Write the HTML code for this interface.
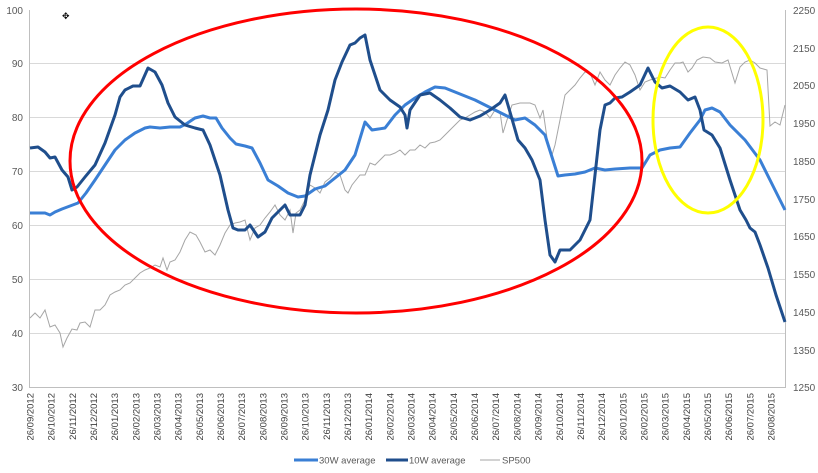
<!DOCTYPE html>
<html><head><meta charset="utf-8"><style>
html,body{margin:0;padding:0;background:#fff;}
svg{display:block;font-family:"Liberation Sans",sans-serif;}
</style></head><body>
<svg width="818" height="473" viewBox="0 0 818 473" xmlns="http://www.w3.org/2000/svg">
<g stroke="#d9d9d9" stroke-width="1">
<line x1="30" y1="63.5" x2="785" y2="63.5"/><line x1="30" y1="117.5" x2="785" y2="117.5"/>
<line x1="30" y1="171.5" x2="785" y2="171.5"/><line x1="30" y1="225.5" x2="785" y2="225.5"/>
<line x1="30" y1="279.5" x2="785" y2="279.5"/><line x1="30" y1="333.5" x2="785" y2="333.5"/>
</g>
<g stroke="#bfbfbf" stroke-width="1" fill="none">
<line x1="29.5" y1="10" x2="29.5" y2="387"/><line x1="785.5" y1="10" x2="785.5" y2="387"/>
<line x1="29" y1="387.5" x2="786" y2="387.5"/>
</g>
<g font-size="10" fill="#595959" text-anchor="end">
<text x="23" y="14">100</text><text x="23" y="67">90</text><text x="23" y="121">80</text>
<text x="23" y="175">70</text><text x="23" y="229">60</text><text x="23" y="283">50</text>
<text x="23" y="337">40</text><text x="23" y="391">30</text>
</g>
<g font-size="10" fill="#595959">
<text x="793" y="14">2250</text><text x="793" y="52">2150</text><text x="793" y="89">2050</text>
<text x="793" y="127">1950</text><text x="793" y="165">1850</text><text x="793" y="203">1750</text>
<text x="793" y="240">1650</text><text x="793" y="278">1550</text><text x="793" y="316">1450</text>
<text x="793" y="354">1350</text><text x="793" y="391">1250</text>
</g>
<g font-size="9.5" fill="#404040" text-anchor="end">
<text transform="translate(33.5,393) rotate(-90)">26/09/2012</text>
<text transform="translate(54.7,393) rotate(-90)">26/10/2012</text>
<text transform="translate(75.8,393) rotate(-90)">26/11/2012</text>
<text transform="translate(97.0,393) rotate(-90)">26/12/2012</text>
<text transform="translate(118.2,393) rotate(-90)">26/01/2013</text>
<text transform="translate(139.4,393) rotate(-90)">26/02/2013</text>
<text transform="translate(160.5,393) rotate(-90)">26/03/2013</text>
<text transform="translate(181.7,393) rotate(-90)">26/04/2013</text>
<text transform="translate(202.9,393) rotate(-90)">26/05/2013</text>
<text transform="translate(224.0,393) rotate(-90)">26/06/2013</text>
<text transform="translate(245.2,393) rotate(-90)">26/07/2013</text>
<text transform="translate(266.4,393) rotate(-90)">26/08/2013</text>
<text transform="translate(287.5,393) rotate(-90)">26/09/2013</text>
<text transform="translate(308.7,393) rotate(-90)">26/10/2013</text>
<text transform="translate(329.9,393) rotate(-90)">26/11/2013</text>
<text transform="translate(351.1,393) rotate(-90)">26/12/2013</text>
<text transform="translate(372.2,393) rotate(-90)">26/01/2014</text>
<text transform="translate(393.4,393) rotate(-90)">26/02/2014</text>
<text transform="translate(414.6,393) rotate(-90)">26/03/2014</text>
<text transform="translate(435.7,393) rotate(-90)">26/04/2014</text>
<text transform="translate(456.9,393) rotate(-90)">26/05/2014</text>
<text transform="translate(478.1,393) rotate(-90)">26/06/2014</text>
<text transform="translate(499.2,393) rotate(-90)">26/07/2014</text>
<text transform="translate(520.4,393) rotate(-90)">26/08/2014</text>
<text transform="translate(541.6,393) rotate(-90)">26/09/2014</text>
<text transform="translate(562.8,393) rotate(-90)">26/10/2014</text>
<text transform="translate(583.9,393) rotate(-90)">26/11/2014</text>
<text transform="translate(605.1,393) rotate(-90)">26/12/2014</text>
<text transform="translate(626.3,393) rotate(-90)">26/01/2015</text>
<text transform="translate(647.4,393) rotate(-90)">26/02/2015</text>
<text transform="translate(668.6,393) rotate(-90)">26/03/2015</text>
<text transform="translate(689.8,393) rotate(-90)">26/04/2015</text>
<text transform="translate(710.9,393) rotate(-90)">26/05/2015</text>
<text transform="translate(732.1,393) rotate(-90)">26/06/2015</text>
<text transform="translate(753.3,393) rotate(-90)">26/07/2015</text>
<text transform="translate(774.5,393) rotate(-90)">26/08/2015</text>
</g>
<polyline fill="none" stroke="#a6a6a6" stroke-width="1" points="30,318 35,313 40,318 45,310 50,327 55,325 60,333 63,347 67,338 72,329 77,330 80,323 85,322 90,327 95,310 100,310 105,305 110,295 115,292 120,290 125,285 130,283 135,278 140,273 145,270 150,268 155,265 160,267 163,258 167,270 170,262 175,260 180,252 185,240 190,232 196,235 200,242 205,252 210,250 215,255 220,245 225,233 230,225 235,223 240,222 245,220 250,240 255,228 260,225 265,218 270,212 275,205 280,215 285,220 290,210 293,233 296,213 300,210 305,200 310,185 315,188 320,193 325,182 330,178 335,172 340,175 345,190 348,193 352,185 360,175 365,175 370,163 375,165 380,160 385,155 390,155 395,153 400,150 405,155 410,150 415,150 420,145 425,148 430,143 435,142 440,140 445,135 450,130 455,125 460,120 465,118 470,115 475,112 480,110 485,112 490,118 495,110 500,112 503,133 507,120 512,105 520,103 530,103 535,105 540,118 543,110 548,145 552,155 555,145 560,120 565,95 570,90 575,85 580,78 585,72 590,73 595,85 600,72 605,80 610,85 615,75 620,68 625,62 630,65 635,75 640,90 645,82 650,80 660,77 665,78 670,70 675,63 680,63 683,62 688,72 692,68 697,60 703,57 710,58 715,62 722,63 728,60 735,83 740,67 745,62 750,60 755,63 760,68 767,70 770,126 775,122 780,125 785,105"/>
<polyline fill="none" stroke="#3a7fd5" stroke-width="3" stroke-linejoin="round" points="30,213 45,213 50,215 55,212 62,209 70,206 78,203 86,193 95,180 105,165 115,150 125,140 135,133 145,128 150,127 160,128 170,127 180,127 186,124 195,118 203,116 210,118 216,118 222,128 230,138 236,144 245,146 252,148 260,163 268,180 278,186 288,193 298,197 305,196 315,189 325,186 335,178 345,170 355,155 365,122 372,130 385,128 395,115 405,105 415,98 425,92 435,87 445,88 455,92 465,96 475,100 485,105 495,110 505,115 515,120 525,118 535,125 545,135 558,176 565,175 575,174 585,172 595,168 605,170 615,169 630,168 642,168 650,155 660,150 670,148 680,147 690,133 700,120 705,110 712,108 720,112 730,125 745,140 760,160 775,190 785,210"/>
<polyline fill="none" stroke="#1f4e8c" stroke-width="3" stroke-linejoin="round" points="30,148 38,147 45,152 50,158 55,157 62,170 68,177 72,190 77,187 85,177 95,165 105,143 115,115 120,97 125,90 133,86 140,86 148,68 155,72 162,85 168,103 175,117 185,125 195,128 203,130 210,145 220,175 228,210 233,228 238,230 245,230 250,225 258,237 265,232 272,218 280,210 285,205 290,215 300,215 305,205 310,175 320,135 328,110 335,80 342,62 350,45 355,43 360,38 365,35 370,60 375,75 380,90 390,100 400,107 405,115 407,128 410,110 420,95 430,93 440,100 450,108 460,117 470,120 480,116 490,110 500,103 505,95 510,112 518,140 525,148 532,160 540,180 545,220 550,255 555,262 560,250 570,250 580,240 590,220 595,175 600,130 605,105 610,103 615,98 622,97 630,92 640,85 648,68 655,82 662,88 670,86 680,92 688,100 695,97 700,110 704,130 712,135 720,148 730,180 740,210 746,220 750,228 755,232 760,245 768,268 776,295 785,322"/>
<ellipse cx="356" cy="161" rx="286" ry="152" fill="none" stroke="#ff0000" stroke-width="3"/>
<ellipse cx="708" cy="120" rx="55" ry="93" fill="none" stroke="#ffff00" stroke-width="3"/>
<g font-size="9.5" fill="#595959">
<line x1="294" y1="460" x2="318" y2="460" stroke="#3a7fd5" stroke-width="3"/><text x="319" y="463.5">30W average</text>
<line x1="386" y1="460" x2="408" y2="460" stroke="#1f4e8c" stroke-width="3"/><text x="409" y="463.5">10W average</text>
<line x1="480" y1="460" x2="500" y2="460" stroke="#a6a6a6" stroke-width="1"/><text x="502" y="463.5">SP500</text>
</g>
<g font-size="9" fill="#000">
<text x="62" y="19">✥</text>
</g>
</svg>
</body></html>
